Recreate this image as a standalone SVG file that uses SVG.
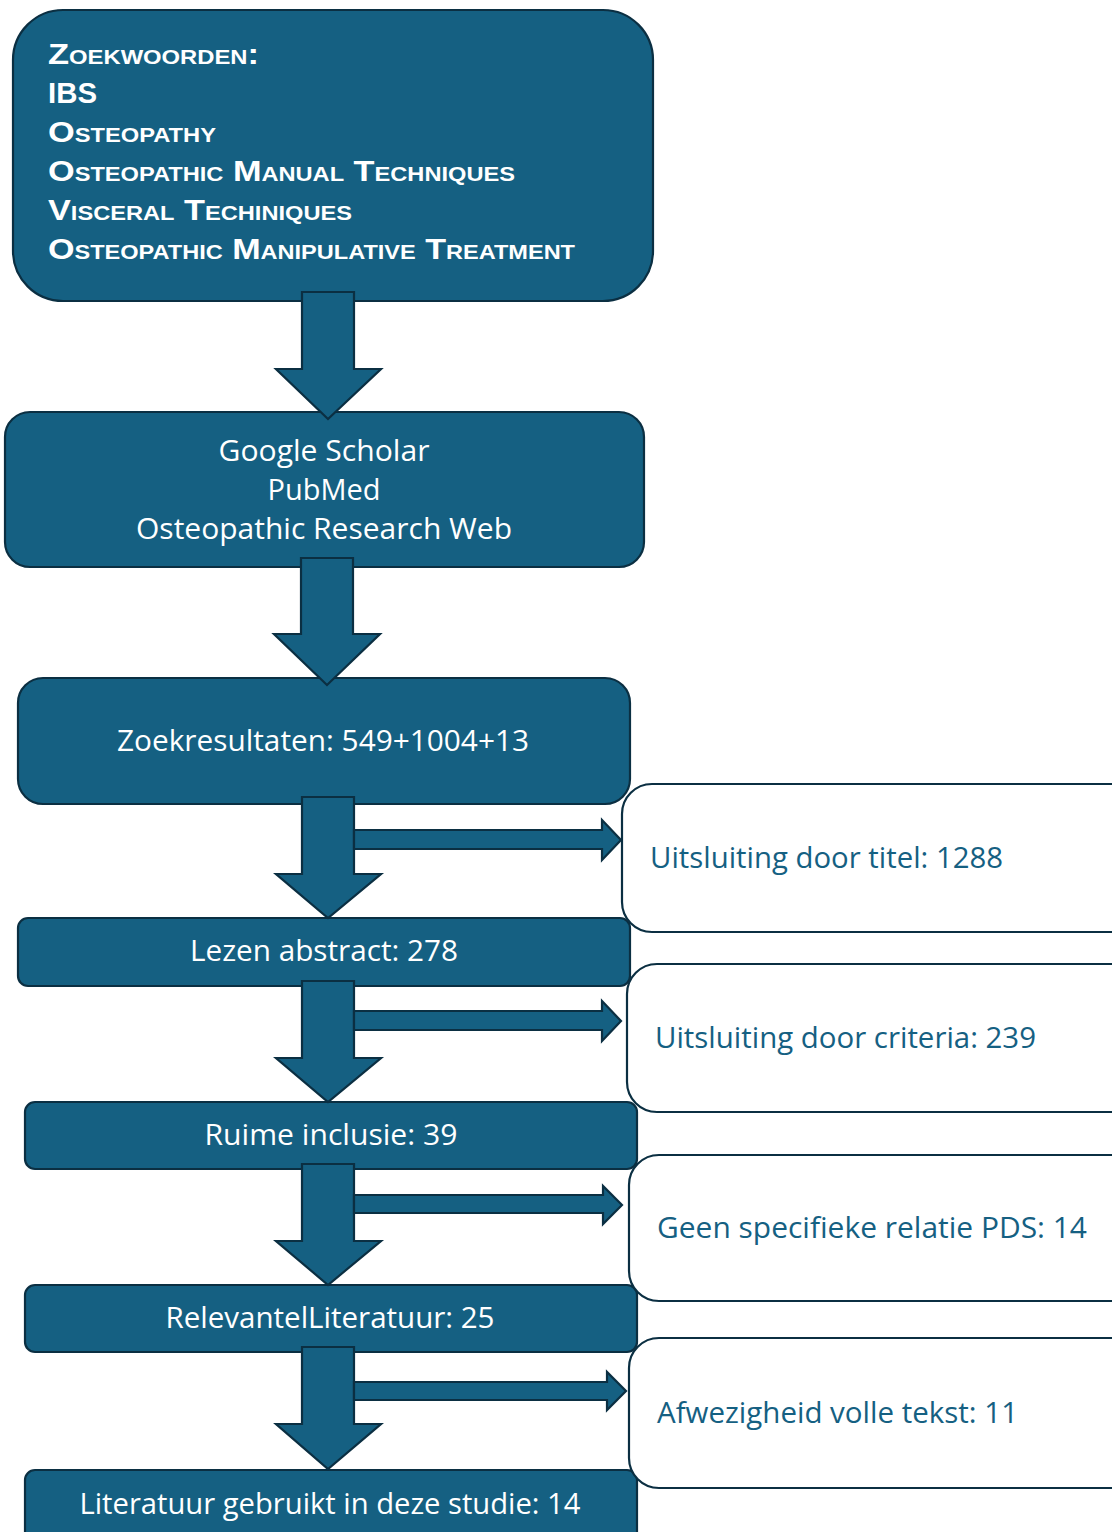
<svg xmlns="http://www.w3.org/2000/svg" width="1112" height="1532" viewBox="0 0 1112 1532">
<style>
.dark{fill:#156082;stroke:#0B2F42;stroke-width:2.2}
.light{fill:#ffffff;stroke:#0B2F42;stroke-width:2.2}
.arr{fill:#156082;stroke:#0B2F42;stroke-width:2.2;stroke-linejoin:miter}
.hd{font-family:"Liberation Sans",Arial,sans-serif;font-weight:bold;font-size:29px;fill:#ffffff;font-variant:small-caps}
.wt{font-family:"Open Sans","Liberation Sans",sans-serif;font-size:28.5px;fill:#ffffff;text-anchor:middle}
.bt{font-family:"Open Sans","Liberation Sans",sans-serif;font-size:28.5px;fill:#156082}
</style>
<rect width="1112" height="1532" fill="#ffffff"/>
<g id="n-keywords">
<rect class="dark" x="13" y="10" width="640" height="291" rx="50"/>
<text class="hd" x="48" y="64" textLength="211" lengthAdjust="spacingAndGlyphs">Zoekwoorden:</text>
<text class="hd" x="48" y="103" textLength="49" lengthAdjust="spacingAndGlyphs">IBS</text>
<text class="hd" x="48" y="142" textLength="168" lengthAdjust="spacingAndGlyphs">Osteopathy</text>
<text class="hd" x="48" y="181" textLength="467" lengthAdjust="spacingAndGlyphs">Osteopathic Manual Techniques</text>
<text class="hd" x="48" y="220" textLength="304" lengthAdjust="spacingAndGlyphs">Visceral Techiniques</text>
<text class="hd" x="48" y="259" textLength="527" lengthAdjust="spacingAndGlyphs">Osteopathic Manipulative Treatment</text>
</g>
<g id="n-databases">
<rect class="dark" x="5" y="412" width="639" height="155" rx="25"/>
<text class="wt" x="324" y="461" textLength="211" lengthAdjust="spacingAndGlyphs">Google Scholar</text>
<text class="wt" x="324" y="500" textLength="113" lengthAdjust="spacingAndGlyphs">PubMed</text>
<text class="wt" x="324" y="539" textLength="376" lengthAdjust="spacingAndGlyphs">Osteopathic Research Web</text>
</g>
<g id="n-results">
<rect class="dark" x="18" y="678" width="612" height="126" rx="25"/>
<text class="wt" x="323" y="751" textLength="412" lengthAdjust="spacingAndGlyphs">Zoekresultaten: 549+1004+13</text>
</g>
<g id="n-abstract">
<rect class="dark" x="18" y="918" width="612" height="68" rx="10"/>
<text class="wt" x="324" y="961" textLength="268" lengthAdjust="spacingAndGlyphs">Lezen abstract: 278</text>
</g>
<g id="n-inclusie">
<rect class="dark" x="25" y="1102" width="612" height="67" rx="10"/>
<text class="wt" x="331" y="1145" textLength="253" lengthAdjust="spacingAndGlyphs">Ruime inclusie: 39</text>
</g>
<g id="n-relevant">
<rect class="dark" x="25" y="1285" width="612" height="67" rx="10"/>
<text class="wt" x="330" y="1328" textLength="329" lengthAdjust="spacingAndGlyphs">RelevantelLiteratuur: 25</text>
</g>
<g id="n-final">
<rect class="dark" x="25" y="1470" width="612" height="80" rx="10"/>
<text class="wt" x="330" y="1514" textLength="501" lengthAdjust="spacingAndGlyphs">Literatuur gebruikt in deze studie: 14</text>
</g>
<g id="n-excl-titel">
<rect class="light" x="622" y="784" width="520" height="148" rx="30"/>
<text class="bt" x="650" y="868" textLength="353" lengthAdjust="spacingAndGlyphs">Uitsluiting door titel: 1288</text>
</g>
<g id="n-excl-criteria">
<rect class="light" x="627" y="964" width="520" height="148" rx="30"/>
<text class="bt" x="655" y="1048" textLength="381" lengthAdjust="spacingAndGlyphs">Uitsluiting door criteria: 239</text>
</g>
<g id="n-excl-pds">
<rect class="light" x="629" y="1155" width="520" height="146" rx="30"/>
<text class="bt" x="657" y="1238" textLength="430" lengthAdjust="spacingAndGlyphs">Geen specifieke relatie PDS: 14</text>
</g>
<g id="n-excl-tekst">
<rect class="light" x="629" y="1338" width="520" height="150" rx="30"/>
<text class="bt" x="657" y="1423" textLength="361" lengthAdjust="spacingAndGlyphs">Afwezigheid volle tekst: 11</text>
</g>
<g id="connectors">
<polygon class="arr" points="302,292 354,292 354,369 381,369 328,419 276,369 302,369"/>
<polygon class="arr" points="301,558 353,558 353,634 380,634 327,685 274,634 301,634"/>
<polygon class="arr" points="302,797 354,797 354,874 381,874 328,918 276,874 302,874"/>
<polygon class="arr" points="302,981 354,981 354,1058 381,1058 328,1102 276,1058 302,1058"/>
<polygon class="arr" points="302,1164 354,1164 354,1241 381,1241 328,1285 276,1241 302,1241"/>
<polygon class="arr" points="302,1347 354,1347 354,1424 381,1424 328,1469 276,1424 302,1424"/>
<polygon class="arr" points="354,830 602,830 602,820 621,840 602,860 602,849 354,849"/>
<polygon class="arr" points="354,1011 602,1011 602,1001 621,1021 602,1041 602,1030 354,1030"/>
<polygon class="arr" points="354,1195 603,1195 603,1186 622,1205 603,1224 603,1213 354,1213"/>
<polygon class="arr" points="354,1382 607,1382 607,1372 626,1391 607,1410 607,1400 354,1400"/>
</g>
</svg>
